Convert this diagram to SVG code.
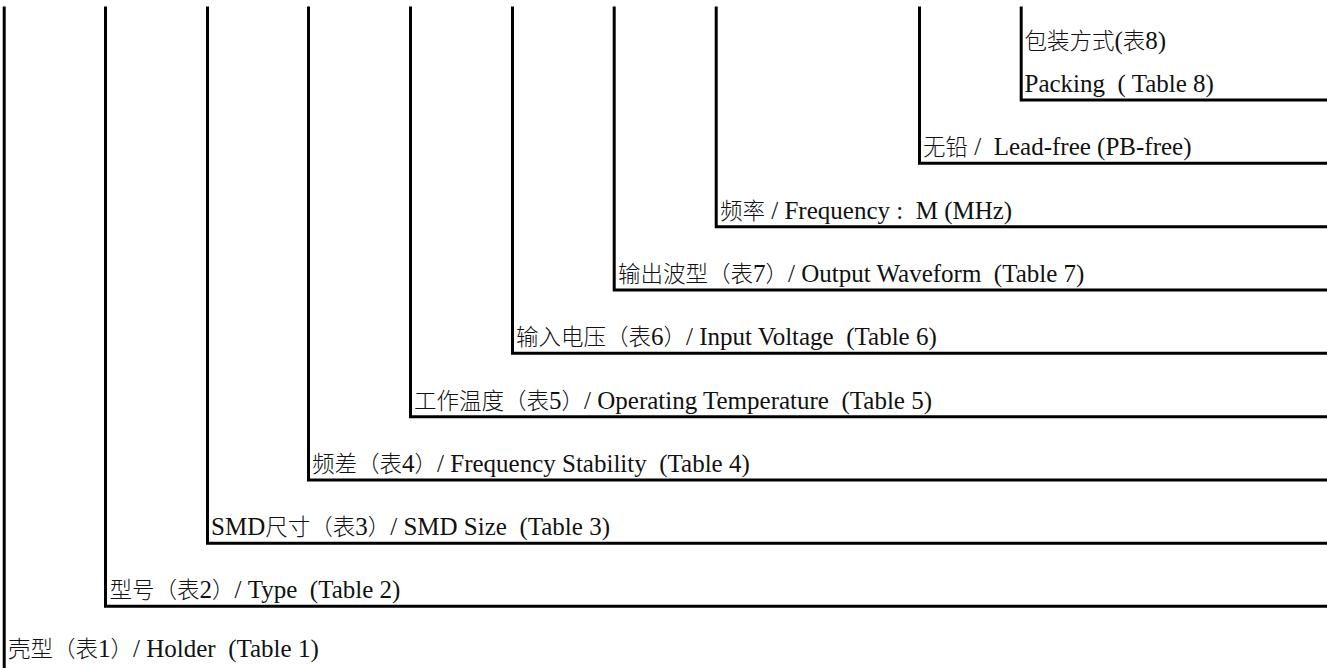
<svg xmlns="http://www.w3.org/2000/svg" width="1327" height="668" viewBox="0 0 1327 668">
<style>
.ln{fill:none;stroke:#000;stroke-width:3;stroke-linejoin:miter;stroke-linecap:butt}
.t{font-family:"Liberation Serif","Noto Sans CJK SC",serif;font-size:25px;fill:#111;white-space:pre}
.c{font-family:"Noto Sans CJK SC","Liberation Serif",sans-serif;font-size:22.5px;font-weight:300}
</style>
<rect width="1327" height="668" fill="#fff"/>
<g id="connectors">
<path class="ln" d="M4.2,6.5 V668"/>
<path class="ln" d="M105.5,6.5 V606.3 H1327"/>
<path class="ln" d="M207.5,6.5 V543.3 H1327"/>
<path class="ln" d="M308.5,6.5 V480 H1327"/>
<path class="ln" d="M410.5,6.5 V416.7 H1327"/>
<path class="ln" d="M512.5,6.5 V353.3 H1327"/>
<path class="ln" d="M614.2,6.5 V290 H1327"/>
<path class="ln" d="M716.2,6.5 V226.7 H1327"/>
<path class="ln" d="M919.5,6.5 V163.3 H1327"/>
<path class="ln" d="M1021.2,6.5 V100 H1327"/>
</g>
<g id="holder"><text class="t" x="8" y="657"><tspan class="c">壳型（表</tspan>1<tspan class="c">）</tspan>/ Holder  (Table 1)</text></g>
<g id="type"><text class="t" x="109.5" y="598.3"><tspan class="c">型号（表</tspan>2<tspan class="c">）</tspan>/ Type  (Table 2)</text></g>
<g id="smd-size"><text class="t" x="211" y="535.3">SMD<tspan class="c">尺寸（表</tspan>3<tspan class="c">）</tspan>/ SMD Size  (Table 3)</text></g>
<g id="stability"><text class="t" x="312" y="472"><tspan class="c">频差（表</tspan>4<tspan class="c">）</tspan>/ Frequency Stability  (Table 4)</text></g>
<g id="temperature"><text class="t" x="414" y="408.7"><tspan class="c">工作温度（表</tspan>5<tspan class="c">）</tspan>/ Operating Temperature  (Table 5)</text></g>
<g id="voltage"><text class="t" x="516" y="345.3"><tspan class="c">输入电压（表</tspan>6<tspan class="c">）</tspan>/ Input Voltage  (Table 6)</text></g>
<g id="waveform"><text class="t" x="618" y="282"><tspan class="c">输出波型（表</tspan>7<tspan class="c">）</tspan>/ Output Waveform  (Table 7)</text></g>
<g id="frequency"><text class="t" x="720" y="218.7"><tspan class="c">频率</tspan> / Frequency :  M (MHz)</text></g>
<g id="lead-free"><text class="t" x="923" y="155.3"><tspan class="c">无铅</tspan> /  Lead-free (PB-free)</text></g>
<g id="packing"><text class="t" x="1024.5" y="49"><tspan class="c">包装方式</tspan>(<tspan class="c">表</tspan>8)</text><text class="t" x="1024.5" y="91.5">Packing  ( Table 8)</text></g>
</svg>
